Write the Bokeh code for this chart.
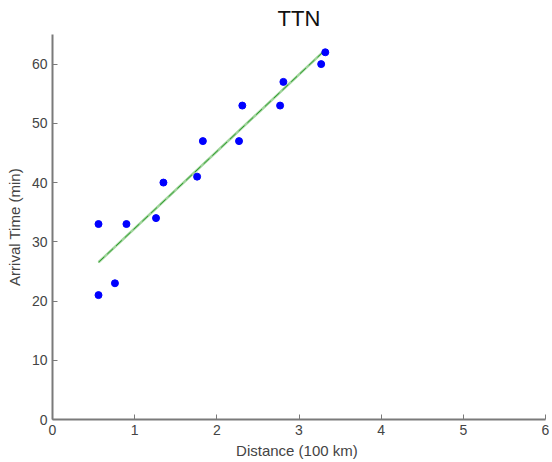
import numpy as np
from bokeh.plotting import figure
from bokeh.models import Range1d, FixedTicker
from bokeh.embed import file_html
from bokeh.resources import INLINE

# Data
distance = [0.56, 0.56, 0.76, 0.90, 1.26, 1.35, 1.76, 1.83, 2.27, 2.31, 2.77, 2.81, 3.27, 3.32]
arrival = [33, 21, 23, 33, 34, 40, 41, 47, 47, 53, 53, 57, 60, 62]
x_ticks = [0, 1, 2, 3, 4, 5, 6]
y_ticks = [0, 10, 20, 30, 40, 50, 60]

# least-squares fit across the data span
slope, intercept = np.polyfit(distance, arrival, 1)
fit_x = [min(distance), max(distance)]
fit_y = [slope * v + intercept for v in fit_x]

p = figure(width=552, height=462, output_backend="svg", toolbar_location=None,
           x_range=Range1d(0, 6), y_range=Range1d(0, 65),
           min_border_left=52, min_border_right=7, min_border_top=34, min_border_bottom=43,
           title="TTN")
p.outline_line_color = None
p.xgrid.grid_line_color = None
p.ygrid.grid_line_color = None
p.background_fill_color = "white"
p.border_fill_color = "white"

p.title.align = "center"
p.title.text_font = "Liberation Sans"
p.title.text_font_size = "22px"
p.title.text_font_style = "normal"
p.title.text_color = "#111111"
p.title.standoff = 7
p.title.offset = 0

for ax in (p.xaxis[0], p.yaxis[0]):
    ax.axis_line_color = "#7a7a7a"
    ax.axis_line_width = 2
    ax.major_tick_line_color = "#7a7a7a"
    ax.major_tick_line_width = 1
    ax.major_tick_in = 5
    ax.major_tick_out = 0
    ax.minor_tick_line_color = None
    ax.major_label_text_font = "Liberation Sans"
    ax.major_label_text_font_size = "14px"
    ax.major_label_text_color = "#444444"
    ax.axis_label_text_font = "Liberation Sans"
    ax.axis_label_text_font_size = "15px"
    ax.axis_label_text_font_style = "normal"
    ax.axis_label_text_color = "#444444"

p.xaxis.ticker = FixedTicker(ticks=x_ticks)
p.yaxis.ticker = FixedTicker(ticks=y_ticks)
p.xaxis.axis_label = "Distance  (100 km)"
p.yaxis.axis_label = "Arrival Time (min)"
p.xaxis.major_label_standoff = 5
p.yaxis.major_label_standoff = 5
p.xaxis.axis_label_standoff = 4
p.yaxis.axis_label_standoff = 6

p.line(fit_x, fit_y, line_color="#9fd49a", line_width=2.5)
p.line(fit_x, fit_y, line_color="#2f9a2f", line_width=1, line_dash="8 4")
p.scatter(distance, arrival, marker="circle", size=7, fill_color="#0000ff", line_color="#0000ff")

open("out.html", "w").write(file_html(p, INLINE))
